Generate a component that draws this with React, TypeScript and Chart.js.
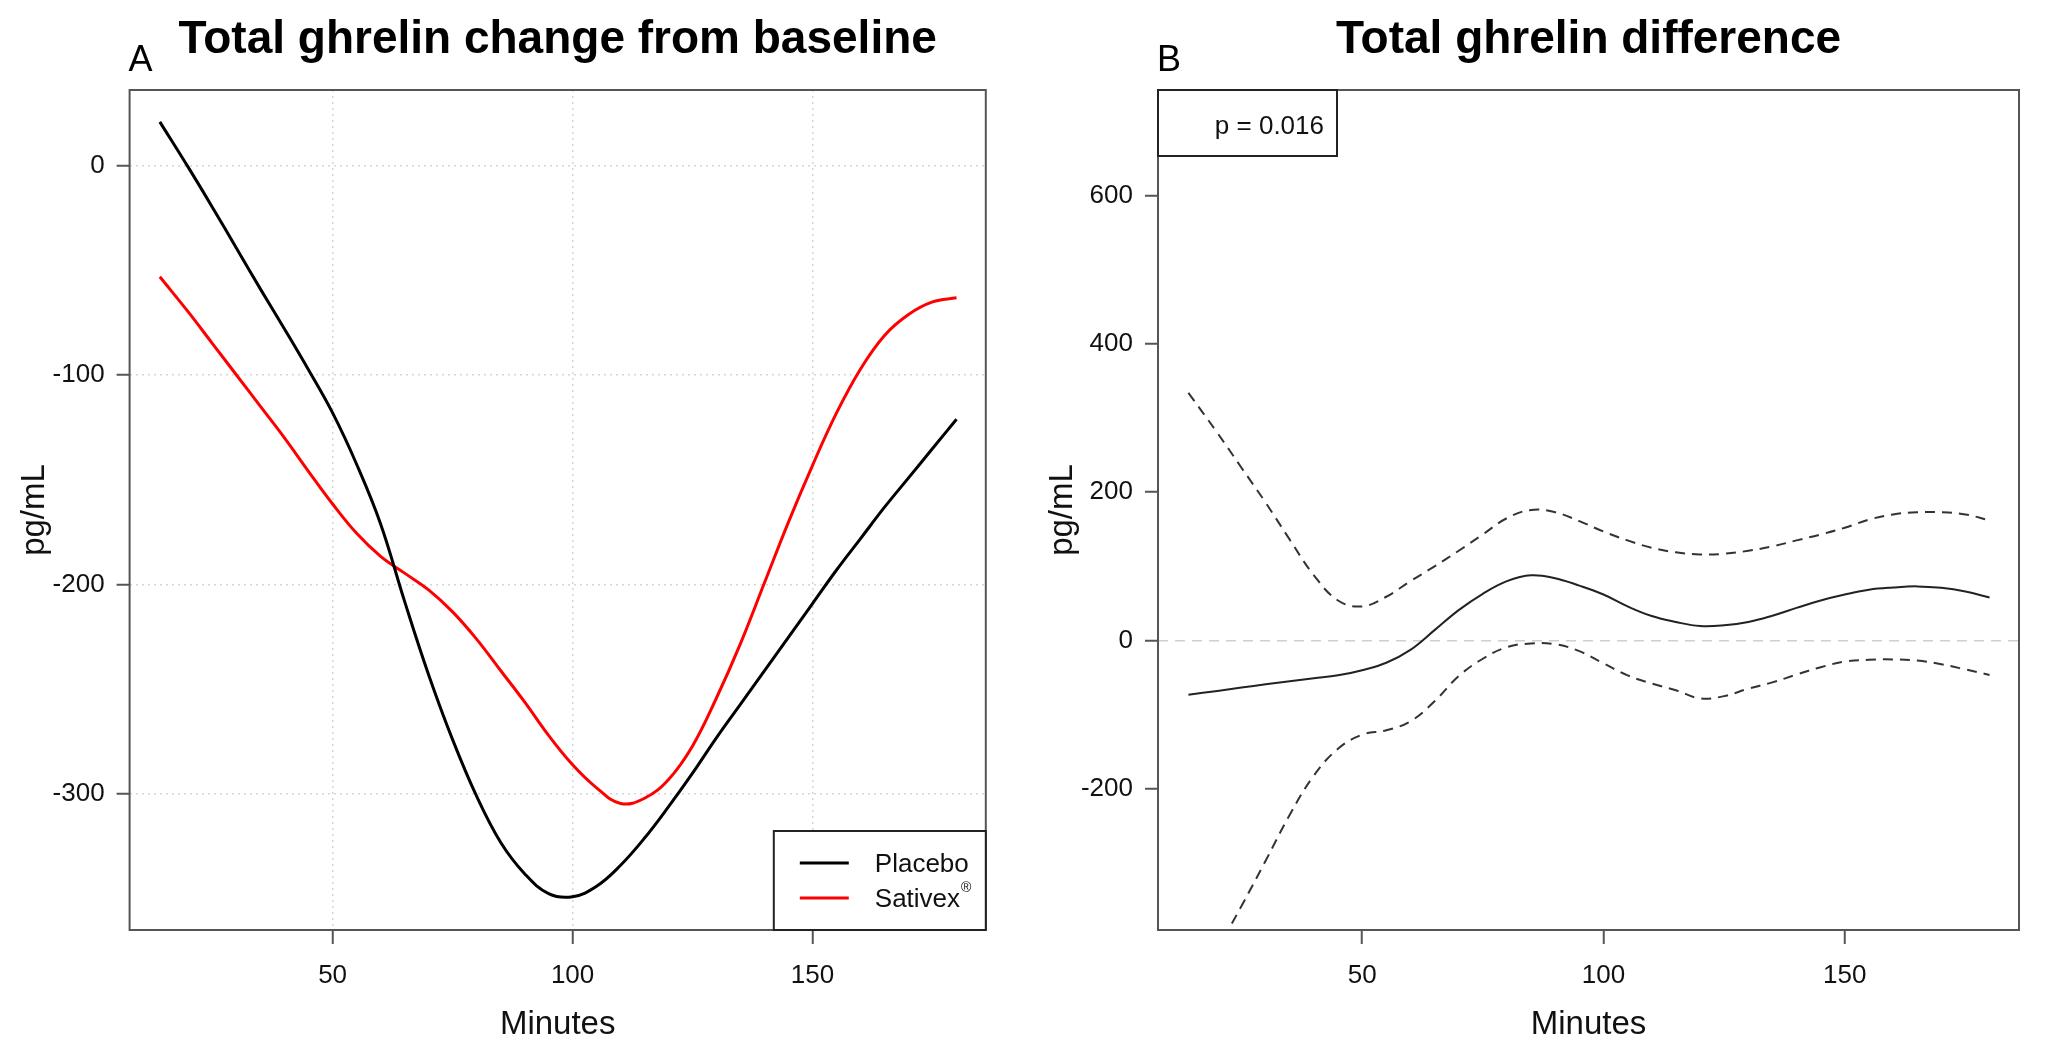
import React, { useEffect, useRef } from 'react';
import { Chart, registerables } from 'chart.js';

Chart.register(...registerables);

// Sampling times (minutes) shared by both panels
const minutes = [14, 20, 25, 30, 35, 40, 45, 50, 55, 60, 65, 70, 75, 80, 85, 90, 95, 100, 105, 110, 115, 120, 125, 130, 135, 140, 145, 150, 155, 160, 165, 170, 175, 180];

// Panel A: change from baseline (pg/mL)
const placebo = [21, -1, -20, -39.5, -59, -78, -97.5, -118, -142.5, -171, -208, -243, -274, -301, -323, -338, -347.5, -349, -344, -334, -321, -306, -290, -273, -257, -241, -225, -209, -193, -178, -163, -149, -135, -121];
const sativex = [-53, -70, -85, -100, -115, -130, -146, -161.5, -175.5, -186.5, -194.5, -202.5, -213, -226, -241, -256, -272, -286, -297, -304.5, -302, -293, -277, -254, -228, -199, -170, -143, -118, -97, -81, -71, -65, -63];

// Panel B: difference with confidence band (pg/mL)
const diff = [-73, -68, -63.5, -59, -55, -51, -47, -40, -30, -12.6, 14, 41, 63, 80, 88, 84, 74, 62, 46, 33, 25, 19.5, 20.5, 25, 33.5, 44, 54, 62, 68.5, 71.5, 73, 71, 66, 58];
const diffUpper = [334, 280, 233, 186, 136, 88, 54, 46, 59, 80, 100, 121, 143, 165, 176, 173, 161, 147, 135, 125, 119, 116, 117, 121, 127, 135, 143, 152, 163, 170, 173, 173, 170, 162];
const diffLower = [-480, -416, -358, -297, -235, -182, -146, -127, -121, -109, -82, -48, -24.6, -9, -4, -5, -14.4, -30.7, -47, -58, -67, -78, -75, -65, -56.5, -46, -36, -28.5, -26, -25.5, -27, -32, -39, -46.5];

// Axis ticks
const xTicks = [50, 100, 150];
const yTicksA = [0, -100, -200, -300];
const yTicksB = [-200, 0, 200, 400, 600];

const legendLabels = ['Placebo', 'Sativex'];
const pText = 'p = 0.016';

const FONT = '"Liberation Sans", Arial, sans-serif';
const AXIS_GREY = '#555';

const pts = (ys: number[]) => ys.map((y, i) => ({ x: minutes[i], y }));

type PanelCfg = {
  title: string;
  letter: string;
  extra?: (chart: any) => void;
};

function panelPlugin(cfg: PanelCfg) {
  return {
    id: 'panelDecor',
    afterDraw(chart: any) {
      const { ctx, chartArea: a } = chart;
      ctx.save();
      // frame around the plotting region
      ctx.strokeStyle = AXIS_GREY;
      ctx.lineWidth = 2;
      ctx.strokeRect(a.left, a.top, a.right - a.left, a.bottom - a.top);

      ctx.fillStyle = '#000';
      ctx.textAlign = 'center';
      ctx.textBaseline = 'middle';
      ctx.font = `bold 46px ${FONT}`;
      ctx.fillText(cfg.title, (a.left + a.right) / 2, 40);

      ctx.font = `36px ${FONT}`;
      ctx.fillText(cfg.letter, a.left + 11, 61);

      ctx.fillStyle = '#111';
      ctx.font = `33px ${FONT}`;
      ctx.fillText('Minutes', (a.left + a.right) / 2, 1025);

      ctx.save();
      ctx.translate(a.left - 95, (a.top + a.bottom) / 2);
      ctx.rotate(-Math.PI / 2);
      ctx.fillText('pg/mL', 0, 0);
      ctx.restore();

      if (cfg.extra) cfg.extra(chart);
      ctx.restore();
    },
  };
}

function drawLegendA(chart: any) {
  const { ctx, chartArea: a } = chart;
  const left = a.right - 212;
  const top = a.bottom - 99;
  ctx.fillStyle = '#fff';
  ctx.fillRect(left, top, a.right - left, a.bottom - top);
  ctx.strokeStyle = '#222';
  ctx.lineWidth = 2;
  ctx.strokeRect(left, top, a.right - left, a.bottom - top);
  const rows = [
    { y: top + 32, color: '#000' },
    { y: top + 67, color: '#ff0000' },
  ];
  ctx.lineWidth = 3;
  rows.forEach((r, i) => {
    ctx.strokeStyle = r.color;
    ctx.beginPath();
    ctx.moveTo(left + 26, r.y);
    ctx.lineTo(left + 75, r.y);
    ctx.stroke();
    ctx.fillStyle = '#111';
    ctx.textAlign = 'left';
    ctx.textBaseline = 'middle';
    ctx.font = `26px ${FONT}`;
    ctx.fillText(legendLabels[i], left + 101, r.y + 2);
    if (i === 1) {
      const w = ctx.measureText(legendLabels[i]).width;
      ctx.font = `14px ${FONT}`;
      ctx.fillText('\u00AE', left + 102 + w, r.y - 10);
    }
  });
}

function drawPBox(chart: any) {
  const { ctx, chartArea: a } = chart;
  ctx.fillStyle = '#fff';
  ctx.fillRect(a.left, a.top, 179, 66);
  ctx.strokeStyle = '#222';
  ctx.lineWidth = 2;
  ctx.strokeRect(a.left, a.top, 179, 66);
  ctx.fillStyle = '#111';
  ctx.textAlign = 'right';
  ctx.textBaseline = 'middle';
  ctx.font = `26px ${FONT}`;
  ctx.fillText(pText, a.left + 166, a.top + 37);
}

function baseScales(yMin: number, yMax: number, yTicks: number[], yAxisWidth: number, gridA: boolean) {
  return {
    x: {
      type: 'linear',
      min: 7.7,
      max: 186.1,
      afterBuildTicks: (s: any) => {
        s.ticks = xTicks.map((v) => ({ value: v }));
      },
      afterFit: (s: any) => {
        s.height = 123;
      },
      grid: {
        display: true,
        drawOnChartArea: gridA,
        color: '#d6d6d6',
        lineWidth: 1.5,
        drawTicks: true,
        tickLength: 14,
        tickColor: AXIS_GREY,
        tickWidth: 2,
      },
      border: { display: false, dash: [2, 4] },
      ticks: {
        color: '#111',
        font: { family: FONT, size: 26 },
        padding: 16,
        maxRotation: 0,
      },
    },
    y: {
      type: 'linear',
      min: yMin,
      max: yMax,
      afterBuildTicks: (s: any) => {
        s.ticks = yTicks.map((v) => ({ value: v }));
      },
      afterFit: (s: any) => {
        s.width = yAxisWidth;
      },
      grid: {
        display: true,
        drawOnChartArea: true,
        color: gridA ? '#d6d6d6' : (c: any) => (c.tick && c.tick.value === 0 ? '#cfcfcf' : 'rgba(0,0,0,0)'),
        lineWidth: 1.5,
        drawTicks: true,
        tickLength: 13,
        tickColor: AXIS_GREY,
        tickWidth: 2,
      },
      border: { display: false, dash: gridA ? [2, 4] : [10, 7] },
      ticks: {
        color: '#111',
        font: { family: FONT, size: 26 },
        padding: 12,
      },
    },
  };
}

const lineStyle = { pointRadius: 0, tension: 0.4, fill: false };

function PanelA() {
  const ref = useRef<HTMLCanvasElement>(null);
  useEffect(() => {
    if (!ref.current) return;
    const chart = new Chart(ref.current, {
      type: 'line',
      data: {
        datasets: [
          { label: 'Placebo', data: pts(placebo), borderColor: '#000', borderWidth: 3, ...lineStyle },
          { label: 'Sativex', data: pts(sativex), borderColor: '#ff0000', borderWidth: 3, ...lineStyle },
        ],
      },
      options: {
        animation: false,
        responsive: false,
        devicePixelRatio: 1,
        layout: { padding: { left: 0, right: 44.2, top: 90, bottom: 0 } },
        plugins: { legend: { display: false }, tooltip: { enabled: false } },
        scales: baseScales(-364.9, 36.2, yTicksA, 129.6, true) as any,
      },
      plugins: [panelPlugin({ title: 'Total ghrelin change from baseline', letter: 'A', extra: drawLegendA })],
    });
    return () => chart.destroy();
  }, []);
  return <canvas ref={ref} width={1030} height={1053} style={{ position: 'absolute', left: 0, top: 0 }} />;
}

function PanelB() {
  const ref = useRef<HTMLCanvasElement>(null);
  useEffect(() => {
    if (!ref.current) return;
    const chart = new Chart(ref.current, {
      type: 'line',
      data: {
        datasets: [
          { label: 'Difference', data: pts(diff), borderColor: '#222', borderWidth: 2, ...lineStyle },
          { label: 'Upper', data: pts(diffUpper), borderColor: '#333', borderWidth: 2, borderDash: [10, 7], ...lineStyle },
          { label: 'Lower', data: pts(diffLower), borderColor: '#333', borderWidth: 2, borderDash: [10, 7], ...lineStyle },
        ],
      },
      options: {
        animation: false,
        responsive: false,
        devicePixelRatio: 1,
        layout: { padding: { left: 0, right: 26, top: 90, bottom: 0 } },
        plugins: { legend: { display: false }, tooltip: { enabled: false } },
        scales: baseScales(-390.4, 742.4, yTicksB, 128, false) as any,
      },
      plugins: [panelPlugin({ title: 'Total ghrelin difference', letter: 'B', extra: drawPBox })],
    });
    return () => chart.destroy();
  }, []);
  return <canvas ref={ref} width={1015} height={1053} style={{ position: 'absolute', left: 1030, top: 0 }} />;
}

export default function App() {
  return (
    <div style={{ position: 'absolute', left: 0, top: 0, width: 2045, height: 1053, background: '#fff', overflow: 'hidden' }}>
      <PanelA />
      <PanelB />
    </div>
  );
}
